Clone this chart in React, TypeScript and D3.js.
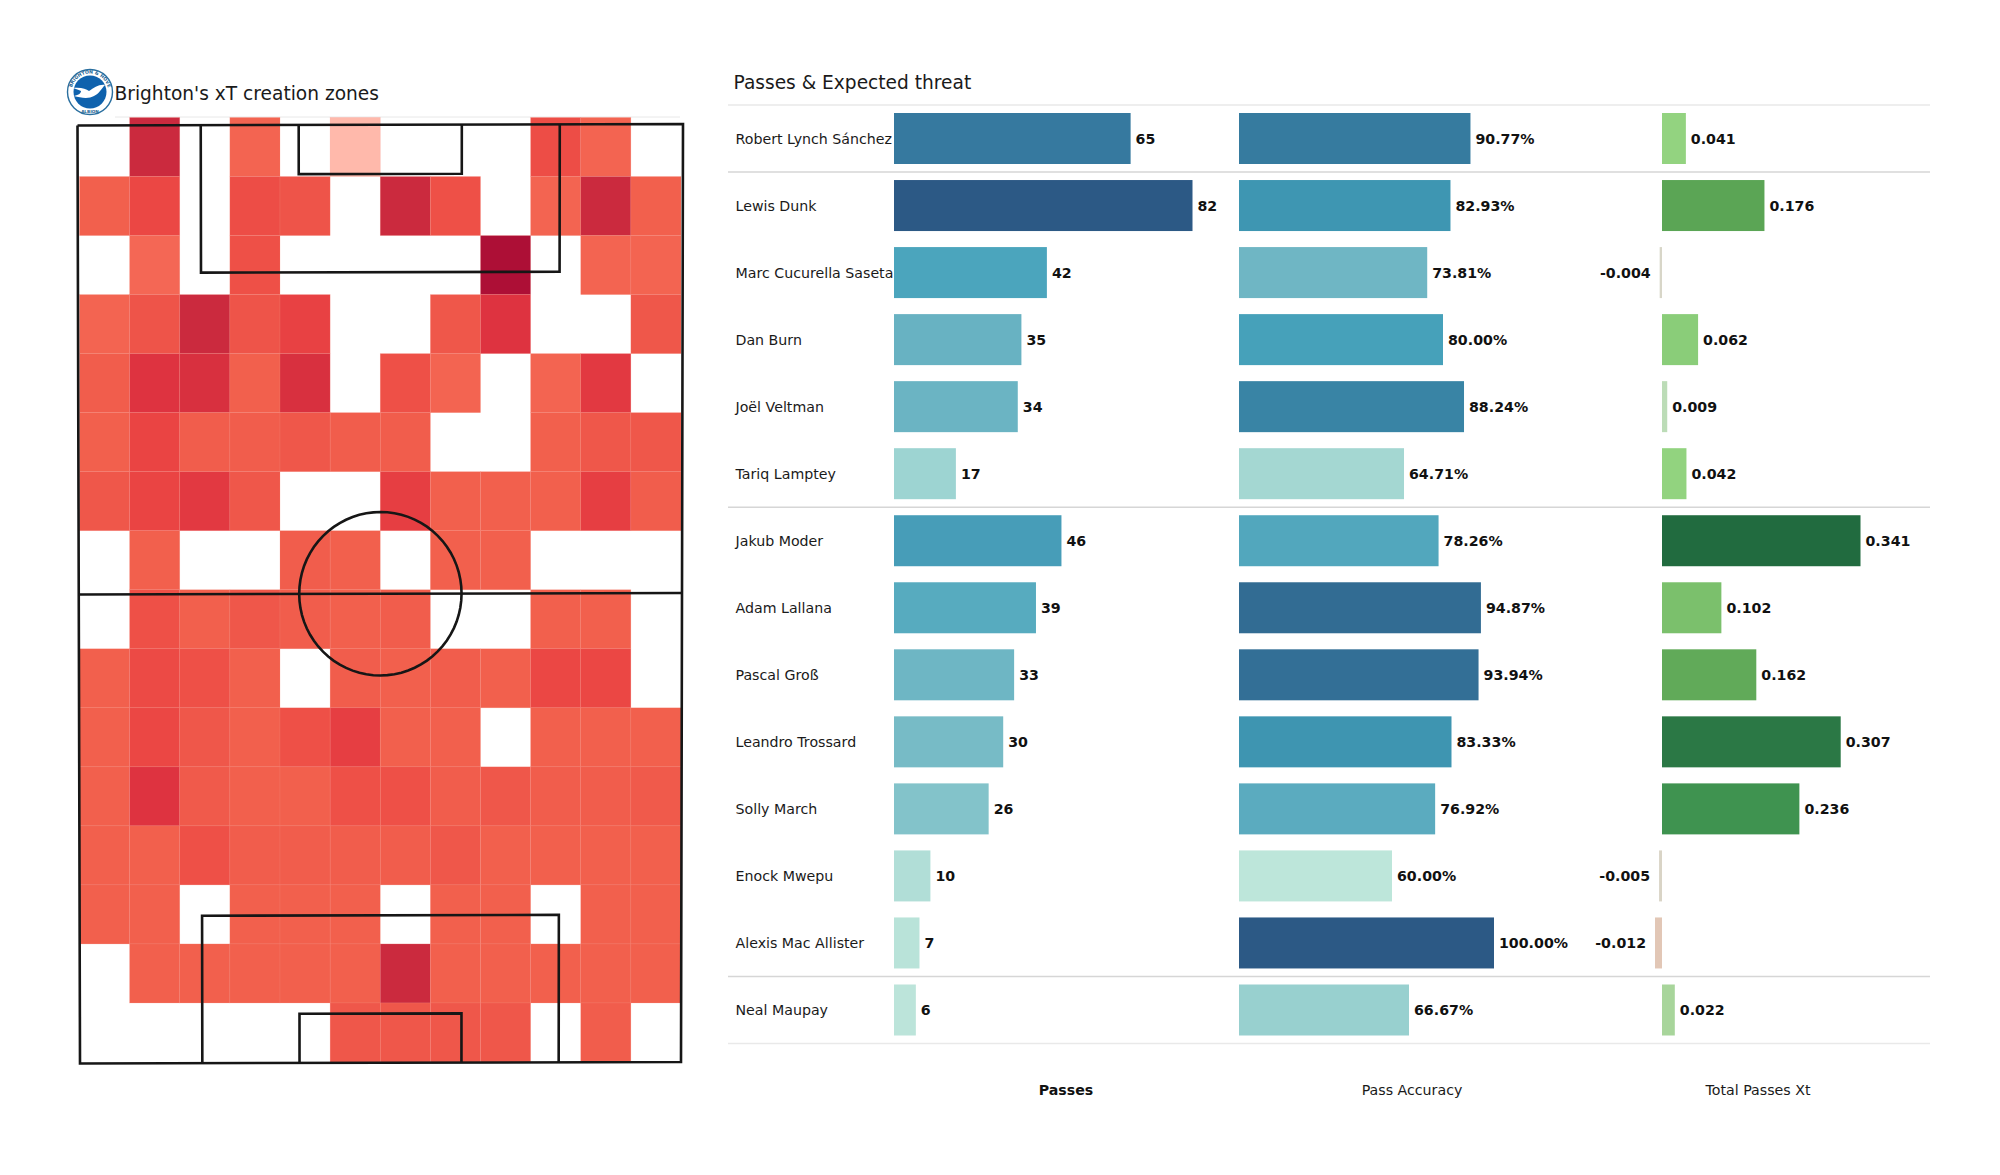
import React from "react";
import * as d3 from "d3";

const players = ["Robert Lynch Sánchez","Lewis Dunk","Marc Cucurella Saseta","Dan Burn","Joël Veltman","Tariq Lamptey","Jakub Moder","Adam Lallana","Pascal Groß","Leandro Trossard","Solly March","Enock Mwepu","Alexis Mac Allister","Neal Maupay"];
const passes = [65,82,42,35,34,17,46,39,33,30,26,10,7,6];
const accuracy = [90.77,82.93,73.81,80.0,88.24,64.71,78.26,94.87,93.94,83.33,76.92,60.0,100.0,66.67];
const xtValues = [0.041,0.176,-0.004,0.062,0.009,0.042,0.341,0.102,0.162,0.307,0.236,-0.005,-0.012,0.022];
const separatorsAfter = [-1,0,5,12,13];

// xT created per zone (x1000), 0 = no value
const heatRows = [
  [0,42,0,20,0,5,0,0,0,27,20,0],
  [21,29,0,27,25,0,42,26,0,20,42,21],
  [0,19,0,26,0,0,0,0,50,0,20,20],
  [20,25,42,25,31,0,0,24,36,0,0,24],
  [22,36,38,21,38,0,26,20,0,20,34,0],
  [21,30,22,22,24,22,22,0,0,21,24,24],
  [24,30,34,24,0,0,32,21,21,21,32,22],
  [0,21,0,0,22,21,0,21,21,0,0,0],
  [0,26,21,24,22,21,22,0,0,21,21,0],
  [21,28,26,21,0,22,21,22,21,29,29,0],
  [21,29,24,21,26,32,21,21,0,21,21,21],
  [21,36,23,21,21,26,26,22,24,22,22,23],
  [21,21,26,22,22,22,22,24,21,21,21,21],
  [21,21,0,21,21,21,0,21,21,0,21,21],
  [0,21,21,21,21,21,42,21,21,21,21,21],
  [0,0,0,0,0,24,24,24,24,0,22,0],
];

const W = 2000, H = 1175;
const FONT = "'DejaVu Sans', sans-serif";

const heatColor = d3.scaleLinear<string>()
  .domain([5,19,21,30,36,42,50])
  .range(["#ffb9ab","#f46755","#f2604d","#ea4443","#de3340","#cb2a3e","#ad0f36"]);
const heatX = d3.scaleLinear().domain([0,12]).range([79.5,681]);
const heatY = d3.scaleLinear().domain([0,16]).range([117.5,1062]);

// Pitch (UEFA 105 x 68) placed on a very slightly skewed quad, like the reference.
const corners = { tl:[77.5,125.5], tr:[683,124], bl:[80,1063.5], br:[681,1062] };
const uS = d3.scaleLinear().domain([0,68]).range([0,1]);
const vS = d3.scaleLinear().domain([0,105]).range([0,1]);
const P = (x:number,y:number):[number,number] => {
  const u=uS(x), v=vS(y);
  const top=[corners.tl[0]+(corners.tr[0]-corners.tl[0])*u, corners.tl[1]+(corners.tr[1]-corners.tl[1])*u];
  const bot=[corners.bl[0]+(corners.br[0]-corners.bl[0])*u, corners.bl[1]+(corners.br[1]-corners.bl[1])*u];
  return [top[0]+(bot[0]-top[0])*v, top[1]+(bot[1]-top[1])*v];
};
const line = d3.line<[number,number]>();
const poly = (pts:[number,number][]) => line(pts.map(p=>P(p[0],p[1])))!;
const pitchPaths = [
  poly([[0,0],[68,0],[68,105],[0,105],[0,0]]),
  poly([[0,52.5],[68,52.5]]),
  poly([[13.84,0],[13.84,16.5],[54.16,16.5],[54.16,0]]),
  poly([[24.84,0],[24.84,5.5],[43.16,5.5],[43.16,0]]),
  poly([[13.84,105],[13.84,88.5],[54.16,88.5],[54.16,105]]),
  poly([[24.84,105],[24.84,99.5],[43.16,99.5],[43.16,105]]),
  poly(d3.range(0,361,5).map(a=>[34+9.15*Math.cos(a*Math.PI/180),52.5+9.15*Math.sin(a*Math.PI/180)] as [number,number])),
];

const rowY = d3.scaleLinear().domain([0,13]).range([138.5,1010]);
const BAR_H = 51;
const passX = d3.scaleLinear().domain([0,82]).range([894,1192.5]);
const accX = d3.scaleLinear().domain([0,100]).range([1239,1494]);
const xtX = d3.scaleLinear().domain([0,0.341]).range([1662,1860.5]);

const passColor = d3.scaleLinear<string>().domain([6,17,35,42,65,82])
  .range(["#bce4da","#9dd4d2","#68b2c2","#4ba5bd","#36799f","#2c5985"]);
const accColor = d3.scaleLinear<string>().domain([60,65,74,80,83,91,100])
  .range(["#bde6da","#a2d6d2","#6eb5c4","#46a1ba","#3e96b2","#367a9e","#2c5985"]);
const xtColor = d3.scaleLinear<string>().domain([-0.012,-0.004,0.009,0.022,0.042,0.102,0.176,0.236,0.341])
  .range(["#e2c7b6","#d8d6c8","#bcdcb7","#a8d59b","#92d37f","#7bc06c","#5ba555","#3f9350","#216b3f"]);

const sepY = (i:number) => i<0 ? 105 : i>=13 ? 1043.5 : (rowY(i)+rowY(i+1))/2;

function Logo() {
  const cx=90, cy=92;
  return (
    <g>
      <circle cx={cx} cy={cy} r={22.5} fill="#fff" stroke="#2a6f9f" strokeWidth={1.4}/>
      <circle cx={cx} cy={cy} r={16.5} fill="#0f62ad"/>
      <path id="lgArc" d={`M ${cx-18.5} ${cy} A 18.5 18.5 0 0 1 ${cx+18.5} ${cy}`} fill="none"/>
      <text fontFamily={FONT} fontSize={4.6} fontWeight="bold" fill="#1b5f92" textAnchor="middle">
        <textPath href="#lgArc" startOffset="50%">BRIGHTON &amp; HOVE</textPath>
      </text>
      <path d={`M ${cx-17} ${cy-4} C ${cx-9} ${cy-5} ${cx-4} ${cy-3} ${cx-1} ${cy-1} C ${cx+4} ${cy-4} ${cx+9} ${cy-8} ${cx+15} ${cy-7} C ${cx+11} ${cy-3} ${cx+9} ${cy+2} ${cx+4} ${cy+4} C ${cx-1} ${cy+7} ${cx-9} ${cy+6} ${cx-16} ${cy+4} C ${cx-11} ${cy+3} ${cx-9} ${cy+1} ${cx-9} ${cy-1} C ${cx-11} ${cy-2} ${cx-14} ${cy-3} ${cx-17} ${cy-4} Z`} fill="#fff"/>
      <text x={cx} y={cy+20.5} fontFamily={FONT} fontSize={4.2} fontWeight="bold" fill="#1b5f92" textAnchor="middle">ALBION</text>
    </g>
  );
}

export default function App() {
  return (
    <svg width={W} height={H} viewBox={`0 0 ${W} ${H}`} style={{position:"absolute",left:0,top:0,background:"#fff"}} fontFamily={FONT}>
      <line x1={115} x2={680} y1={117} y2={117} stroke="#e8e8e8" strokeWidth={1}/>
      {heatRows.map((row,r)=>row.map((v,c)=> v>0 ? (
        <rect key={`${r}-${c}`} x={heatX(c)} y={heatY(r)} width={heatX(c+1)-heatX(c)} height={heatY(r+1)-heatY(r)}
          fill={heatColor(v)} stroke="#f7897a" strokeOpacity={0.35} strokeWidth={0.6}/>
      ) : null))}
      {pitchPaths.map((d,i)=><path key={i} d={d} fill="none" stroke="#161616" strokeWidth={2.6}/>)}
      <Logo/>
      <text x={114.5} y={100} fontSize={18.6} fill="#1a1a1a">Brighton's xT creation zones</text>
      <text x={733.5} y={89} fontSize={18.6} fill="#1a1a1a">Passes &amp; Expected threat</text>

      {separatorsAfter.map(i=>(
        <line key={i} x1={728} x2={1930} y1={sepY(i)} y2={sepY(i)} stroke={i===-1||i===13?"#e9e9e9":"#d6d6d6"} strokeWidth={1.4}/>
      ))}

      {players.map((name,i)=>{
        const y=rowY(i);
        const xt=xtValues[i];
        const x0=Math.min(xtX(0),xtX(xt)), x1=Math.max(xtX(0),xtX(xt));
        return (
          <g key={name}>
            <text x={735.5} y={y} dy="0.36em" fontSize={14.2} fill="#1a1a1a">{name}</text>
            <rect x={passX(0)} y={y-BAR_H/2} width={passX(passes[i])-passX(0)} height={BAR_H} fill={passColor(passes[i])}/>
            <text x={passX(passes[i])+5} y={y} dy="0.36em" fontSize={14.2} fontWeight="bold" fill="#111">{passes[i]}</text>
            <rect x={accX(0)} y={y-BAR_H/2} width={accX(accuracy[i])-accX(0)} height={BAR_H} fill={accColor(accuracy[i])}/>
            <text x={accX(accuracy[i])+5} y={y} dy="0.36em" fontSize={14.2} fontWeight="bold" fill="#111">{accuracy[i].toFixed(2)}%</text>
            <rect x={x0} y={y-BAR_H/2} width={Math.max(x1-x0,1.6)} height={BAR_H} fill={xtColor(xt)}/>
            {xt>=0
              ? <text x={x1+5} y={y} dy="0.36em" fontSize={14.2} fontWeight="bold" fill="#111">{xt.toFixed(3)}</text>
              : <text x={x0-9} y={y} dy="0.36em" fontSize={14.2} fontWeight="bold" fill="#111" textAnchor="end">{xt.toFixed(3)}</text>}
          </g>
        );
      })}

      <text x={1066} y={1090} dy="0.36em" fontSize={14.2} fontWeight="bold" textAnchor="middle" fill="#111">Passes</text>
      <text x={1412} y={1090} dy="0.36em" fontSize={14.2} textAnchor="middle" fill="#1a1a1a">Pass Accuracy</text>
      <text x={1758} y={1090} dy="0.36em" fontSize={14.2} textAnchor="middle" fill="#1a1a1a">Total Passes Xt</text>
    </svg>
  );
}
